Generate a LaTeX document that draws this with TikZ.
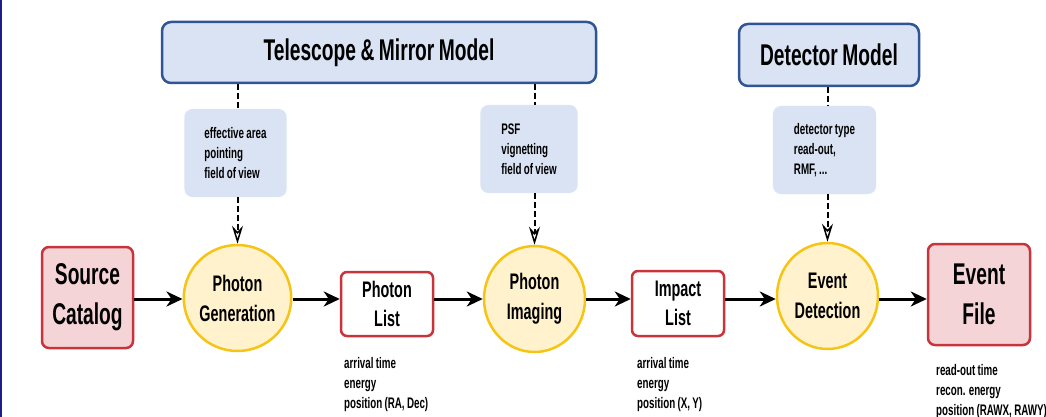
\documentclass[tikz,border=0pt]{standalone}
\usepackage{fontspec}
\setmainfont{Liberation Sans}[FakeStretch=0.64,WordSpace=0.85]
\usetikzlibrary{arrows.meta,shapes.geometric}
\definecolor{bluefill}{RGB}{218,227,243}
\definecolor{blueline}{RGB}{47,85,151}
\definecolor{pinkfill}{RGB}{244,212,215}
\definecolor{redline}{RGB}{200,52,60}
\definecolor{yelfill}{RGB}{255,242,204}
\definecolor{yelline}{RGB}{246,196,20}
\definecolor{edgeblue}{RGB}{28,28,140}
\tikzset{
 model/.style={draw=blueline, fill=bluefill, line width=2.5pt, rounded corners=9pt, inner sep=0pt, font=\fontsize{30}{36}\selectfont\bfseries},
 infobox/.style={fill=bluefill, rounded corners=8pt, inner ysep=0pt, minimum height=88pt, align=left, font=\fontsize{15.3}{20}\selectfont\bfseries},
 endbox/.style={draw=redline, fill=pinkfill, line width=2.5pt, rounded corners=7pt, inner sep=0pt, align=center, font=\fontsize{30}{40}\selectfont\bfseries},
 listbox/.style={draw=redline, fill=white, line width=2.5pt, rounded corners=6pt, inner sep=0pt, align=center, font=\fontsize{22.5}{29}\selectfont\bfseries},
 proc/.style={ellipse, draw=yelline, fill=yelfill, line width=2.5pt, inner sep=0pt, minimum width=101pt, minimum height=106pt, align=center, font=\fontsize{22.5}{30}\selectfont\bfseries},
 note/.style={anchor=north west, inner sep=0pt, align=left, font=\fontsize{15.3}{20}\selectfont\bfseries},
 flow/.style={line width=3pt, -{Stealth[length=16pt,width=15pt,inset=5pt]}},
 link/.style={line width=2pt, dash pattern=on 6pt off 3pt},
 linkarr/.style={link, -{Stealth[length=18pt,width=11pt,inset=6pt,open,line width=1.5pt]}},
}
\begin{document}
\begin{tikzpicture}[x=1pt,y=-1pt]
\useasboundingbox (0,0) rectangle (1046,417);
\clip (0,0) rectangle (1046,417);
\fill[edgeblue] (0,0) rectangle (1.5,417);
\coordinate (flowy) at (0,299);

% model boxes
\node[model, minimum width=434pt, minimum height=61pt] (tel) at (379,52.5) {Telescope \& Mirror Model};
\node[model, minimum width=180pt, minimum height=62pt] (det) at (829,55) {Detector Model};

% info boxes
\node[infobox, inner xsep=20pt] (i1) at (235.5,153) {effective area\\pointing\\field of view};
\node[infobox, inner xsep=21pt] (i2) at (529,149) {PSF\\vignetting\\field of view};
\node[infobox, inner xsep=21pt] (i3) at (824.5,150) {detector type\\read-out,\\RMF, ...};

% main chain
\node[endbox, minimum width=91pt, minimum height=101pt] (src) at (87.5,297.5) {Source\\Catalog};
\node[proc] (pg) at (237.5,298) {Photon\\Generation};
\node[listbox, minimum width=92pt, minimum height=64pt] (pl) at (387,304) {Photon\\List};
\node[proc] (pi) at (534.5,299) {Photon\\Imaging};
\node[listbox, minimum width=92pt, minimum height=65pt] (il) at (678,303.5) {Impact\\List};
\node[proc] (ed) at (827.5,296) {Event\\Detection};
\node[endbox, minimum width=102pt, minimum height=101pt] (ef) at (979,294.5) {Event\\File};

% notes
\node[note] (n1) at (344,356.8) {arrival time\\energy\\position (RA, Dec)};
\node[note] (n2) at (637,356.8) {arrival time\\energy\\position (X, Y)};
\node[note] (n3) at (936,363.8) {read-out time\\recon. energy\\position (RAWX, RAWY)};

% flow arrows
\draw[flow] (src.east |- flowy) -- (pg.west |- flowy);
\draw[flow] (pg.east |- flowy) -- (pl.west |- flowy);
\draw[flow] (pl.east |- flowy) -- (pi.west |- flowy);
\draw[flow] (pi.east |- flowy) -- (il.west |- flowy);
\draw[flow] (il.east |- flowy) -- (ed.west |- flowy);
\draw[flow] (ed.east |- flowy) -- (ef.west |- flowy);

% dashed links
\draw[link] (tel.south -| pg.north) -- (i1.north -| pg.north);
\draw[linkarr] (i1.south -| pg.north) -- (pg.north);
\draw[link] (tel.south -| pi.north) -- (i2.north -| pi.north);
\draw[linkarr] (i2.south -| pi.north) -- (pi.north);
\draw[link] (det.south -| ed.north) -- (i3.north -| ed.north);
\draw[linkarr] (i3.south -| ed.north) -- (ed.north);
\end{tikzpicture}
\end{document}
